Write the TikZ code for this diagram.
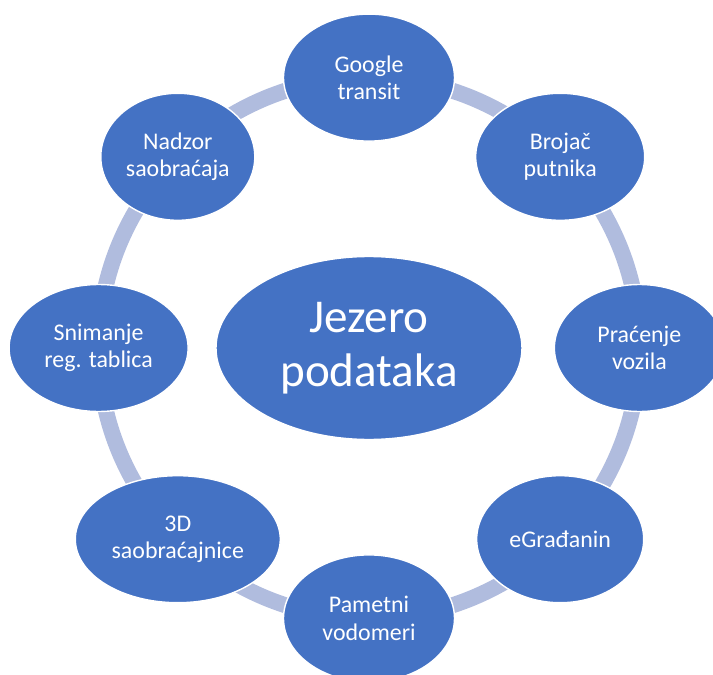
\documentclass[tikz,border=0pt]{standalone}
\usepackage{fontspec}
\setmainfont{Carlito}
\usetikzlibrary{shapes.geometric}
\definecolor{nodeblue}{RGB}{68,114,196}
\definecolor{ringblue}{RGB}{176,188,222}
\tikzset{
  source/.style={ellipse,fill=nodeblue,draw=white,line width=1pt,text=white,align=center,
    minimum height=3.175cm,inner sep=0pt,font=\fontsize{17}{19.5}\selectfont},
  lake/.style={ellipse,fill=nodeblue,draw=white,line width=1pt,text=white,align=center,
    minimum width=7.65cm,minimum height=4.575cm,inner sep=0pt,font=\fontsize{33.5}{38}\selectfont},
  ring/.style={line width=0.4cm,color=ringblue}
}

\begin{document}
\begin{tikzpicture}
  \useasboundingbox (-9.225,-8.175) rectangle (8.6,8.7);
  % ring behind the sources
  \draw[ring] (0,0) circle [radius=6.76cm];
  \node[lake] (lake) at (0,0) {Jezero\\podataka};
  \node[source, minimum width=4.275cm] (google) at (90:6.76) {Google\\transit};
  \node[source, minimum width=4.225cm] (brojac) at (45:6.76) {Brojač\\putnika};
  \node[source, minimum width=4.25cm] (pracenje) at (0:6.76) {Praćenje\\vozila};
  \node[source, minimum width=4.175cm] (egradjanin) at (-45:6.76) {eGrađanin};
  \node[source, minimum width=4.275cm] (vodomeri) at (-90:6.76) {Pametni\\vodomeri};
  \node[source, minimum width=5.125cm] (saobracajnice) at (-135:6.76) {3D\\saobraćajnice};
  \node[source, minimum width=4.475cm] (tablice) at (180:6.76) {Snimanje\\reg. tablica};
  \node[source, minimum width=3.85cm] (nadzor) at (135:6.76) {Nadzor\\saobraćaja};
\end{tikzpicture}
\end{document}
